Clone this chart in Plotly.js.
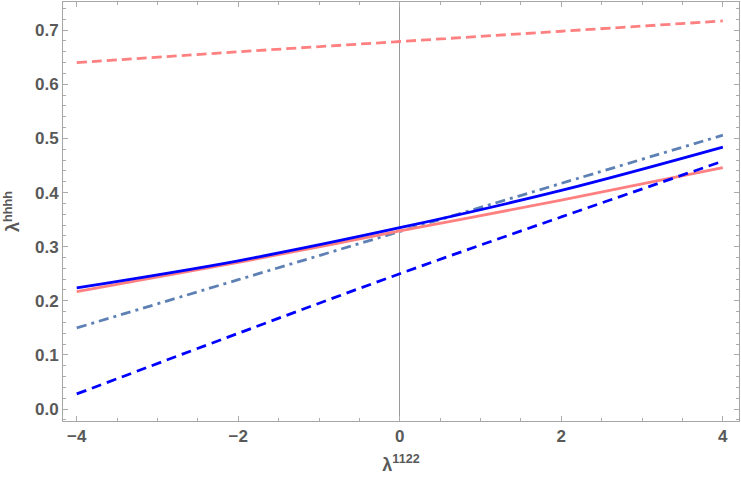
<!DOCTYPE html>
<html>
<head>
<meta charset="utf-8">
<script src="https://cdn.plot.ly/plotly-3.0.1.min.js"></script>
<style>
  body { margin: 0; }
  #chart { width: 741px; height: 482px; }
</style>
</head>
<body>
<div id="chart"></div>
<script>
// lambda1122 sample points
var x = [-4, -2, 0, 2, 4];

// lambda hhhh curves
var redDashed = [0.640, 0.660, 0.679, 0.698, 0.717];
var blueSolid = [0.224, 0.274, 0.335, 0.404, 0.484];
var pinkSolid = [0.217, 0.271, 0.329, 0.386, 0.446];
var steelDashDot = [0.150, 0.239, 0.328, 0.417, 0.506];
var blueDashed = [0.028, 0.140, 0.250, 0.355, 0.458];

var pink = 'rgb(255,128,128)';
var blue = 'rgb(0,0,255)';
var steel = 'rgb(94,129,181)';

function curve(y, color, dash) {
  return {
    x: x, y: y, type: 'scatter', mode: 'lines',
    line: {color: color, width: 2.8, dash: dash, shape: 'spline'},
    hoverinfo: 'skip', showlegend: false
  };
}

var data = [
  curve(redDashed, pink, '10px,5px'),
  curve(steelDashDot, steel, '10px,5px,3px,5px'),
  curve(pinkSolid, pink, 'solid'),
  curve(blueSolid, blue, 'solid'),
  curve(blueDashed, blue, '10px,6px')
];

var narrow = 'Liberation Sans Narrow, Arial Narrow, sans-serif';
var tickFont = {family: narrow, size: 17, color: '#595959', weight: 'bold'};
var titleFont = {family: narrow, size: 18, color: '#595959', weight: 'bold'};

var layout = {
  width: 741, height: 482,
  margin: {l: 63, r: 2, t: 2, b: 61},
  paper_bgcolor: 'white', plot_bgcolor: 'white',
  xaxis: {
    range: [-4.17, 4.2],
    tickvals: [-4, -2, 0, 2, 4],
    ticktext: ['\u22124', '\u22122', '0', '2', '4'],
    ticks: 'inside', ticklen: 5, tickcolor: '#aaa',
    minor: {dtick: 0.5, ticks: 'inside', ticklen: 3, tickcolor: '#aaa', showgrid: false},
    showgrid: false, zeroline: true, zerolinecolor: '#999', zerolinewidth: 1,
    showline: true, linecolor: '#a6a6a6', linewidth: 1, mirror: 'ticks',
    tickfont: tickFont,
    title: {text: '\u03bb<sup>1122</sup>', font: titleFont, standoff: 12}
  },
  yaxis: {
    range: [-0.022, 0.752],
    tickvals: [0, 0.1, 0.2, 0.3, 0.4, 0.5, 0.6, 0.7],
    ticktext: ['0.0', '0.1', '0.2', '0.3', '0.4', '0.5', '0.6', '0.7'],
    ticks: 'inside', ticklen: 5, tickcolor: '#aaa',
    minor: {dtick: 0.02, ticks: 'inside', ticklen: 3, tickcolor: '#aaa', showgrid: false},
    showgrid: false, zeroline: false,
    showline: true, linecolor: '#a6a6a6', linewidth: 1, mirror: 'ticks',
    tickfont: tickFont,
    title: {text: '\u03bb<sup>hhhh</sup>', font: titleFont, standoff: 10}
  }
};

Plotly.newPlot('chart', data, layout, {staticPlot: true, displayModeBar: false});
</script>
</body>
</html>
